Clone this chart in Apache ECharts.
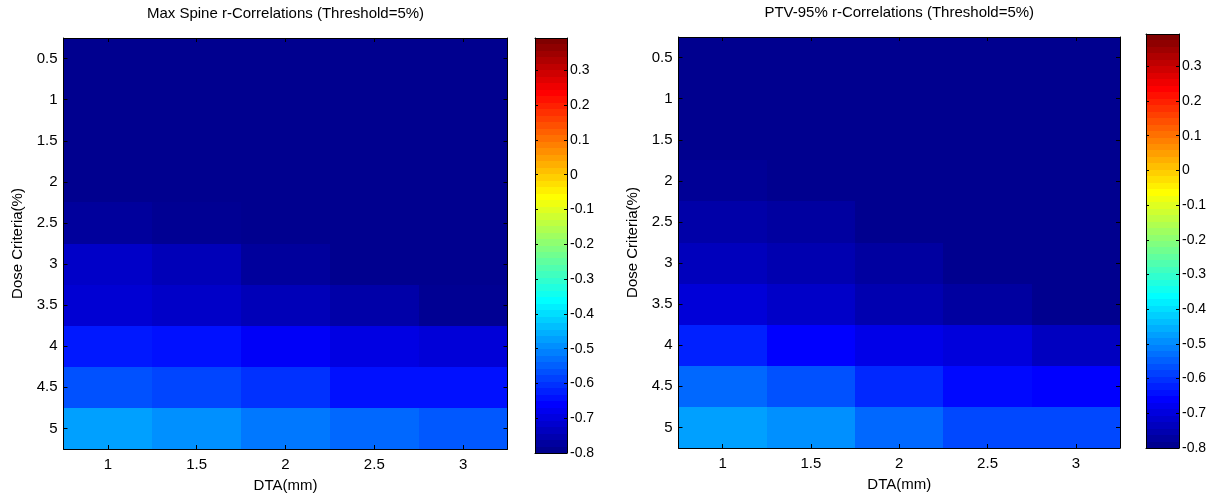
<!DOCTYPE html>
<html>
<head>
<meta charset="utf-8">
<script src="https://cdn.jsdelivr.net/npm/echarts@6/dist/echarts.min.js"></script>
<style>
  html, body { margin: 0; padding: 0; background: #fff; }
  #chart { width: 1221px; height: 498px; }
</style>
</head>
<body>
<div id="chart"></div>
<script>
// Gamma criteria grid
const DTA = ['1', '1.5', '2', '2.5', '3'];
const DOSE = ['0.5', '1', '1.5', '2', '2.5', '3', '3.5', '4', '4.5', '5'];

// r-correlations, one row per dose criterion, columns follow DTA
const spineR = [
  [-0.80, -0.80, -0.80, -0.80, -0.80],
  [-0.80, -0.80, -0.80, -0.80, -0.80],
  [-0.80, -0.80, -0.80, -0.80, -0.80],
  [-0.80, -0.80, -0.80, -0.80, -0.80],
  [-0.785, -0.795, -0.80, -0.80, -0.80],
  [-0.733, -0.752, -0.785, -0.80, -0.80],
  [-0.719, -0.733, -0.752, -0.771, -0.795],
  [-0.639, -0.648, -0.676, -0.700, -0.714],
  [-0.572, -0.586, -0.610, -0.648, -0.648],
  [-0.477, -0.496, -0.525, -0.544, -0.563]
];
const ptvR = [
  [-0.80, -0.80, -0.80, -0.80, -0.80],
  [-0.80, -0.80, -0.80, -0.80, -0.80],
  [-0.80, -0.80, -0.80, -0.80, -0.80],
  [-0.792, -0.80, -0.80, -0.80, -0.80],
  [-0.771, -0.780, -0.80, -0.80, -0.80],
  [-0.747, -0.761, -0.780, -0.80, -0.80],
  [-0.714, -0.733, -0.761, -0.780, -0.80],
  [-0.630, -0.667, -0.695, -0.709, -0.742],
  [-0.544, -0.572, -0.620, -0.658, -0.667],
  [-0.477, -0.496, -0.544, -0.582, -0.582]
];

// colour scale limits and colourbar tick labels
const C_MIN = -0.8;
const C_MAX = 0.393;
const CB_TICKS = ['-0.8', '-0.7', '-0.6', '-0.5', '-0.4', '-0.3', '-0.2', '-0.1', '0', '0.1', '0.2', '0.3'];

const TITLES = ['Max Spine r-Correlations (Threshold=5%)', 'PTV-95% r-Correlations (Threshold=5%)'];
const X_NAME = 'DTA(mm)';
const Y_NAME = 'Dose Criteria(%)';

// 64-level jet colormap
function jet(m) {
  const n = Math.ceil(m / 4);
  const u = [];
  for (let i = 1; i <= n; i++) u.push(i / n);
  for (let i = 1; i < n; i++) u.push(1);
  for (let i = n; i >= 1; i--) u.push(i / n);
  const g0 = Math.ceil(n / 2) - (m % 4 === 1 ? 1 : 0);
  const J = Array.from({ length: m }, () => [0, 0, 0]);
  const gIdx = u.map((_, i) => g0 + i + 1);
  const rIdx = gIdx.map(v => v + n).filter(v => v <= m);
  const bIdx = gIdx.map(v => v - n).filter(v => v >= 1);
  gIdx.filter(v => v <= m).forEach((v, i) => { J[v - 1][1] = u[i]; });
  rIdx.forEach((v, i) => { J[v - 1][0] = u[i]; });
  bIdx.forEach((v, i) => { J[v - 1][2] = u[u.length - bIdx.length + i]; });
  return J.map(c => 'rgb(' + c.map(x => Math.round(x * 255)).join(',') + ')');
}
const JET = jet(64);

const FONT = "'Liberation Sans', Arial, sans-serif";
const BLACK = '#000';

function cells(rows) {
  const out = [];
  rows.forEach((row, yi) => row.forEach((v, xi) => out.push([xi, yi, v])));
  return out;
}
function bands() {
  const out = [];
  const step = (C_MAX - C_MIN) / JET.length;
  for (let i = 0; i < JET.length; i++) out.push([0.5, C_MIN + i * step, C_MIN + (i + 1) * step]);
  return out;
}

// one heatmap cell, snapped to whole pixels so neighbours meet without seams
function cellItem(params, api) {
  const c = api.coord([api.value(0), api.value(1)]);
  const s = api.size([1, 1]);
  const x0 = Math.round(c[0] - s[0] / 2), x1 = Math.round(c[0] + s[0] / 2);
  const y0 = Math.round(c[1] - s[1] / 2), y1 = Math.round(c[1] + s[1] / 2);
  return { type: 'rect', shape: { x: x0, y: y0, width: x1 - x0, height: y1 - y0 },
    style: { fill: api.visual('color') } };
}
// one colourbar band
function bandItem(params, api) {
  const a = api.coord([0, api.value(2)]);
  const b = api.coord([1, api.value(1)]);
  const y0 = Math.round(a[1]), y1 = Math.round(b[1]);
  return { type: 'rect', shape: { x: a[0], y: y0, width: b[0] - a[0], height: y1 - y0 },
    style: { fill: JET[params.dataIndex] } };
}

const line = { show: true, onZero: false, lineStyle: { color: BLACK, width: 1 } };
const tickIn = { show: true, inside: true, alignWithLabel: true, length: 4, lineStyle: { color: BLACK } };
const lbl = { color: BLACK, fontFamily: FONT, fontSize: 15 };
const nameStyle = { color: BLACK, fontFamily: FONT, fontSize: 15 };

// panel geometry: heatmap and colourbar per panel
const panels = [
  { grid: { left: 63.5, top: 38, width: 444, height: 415 }, bar: { left: 535, top: 38, width: 32, height: 415 } },
  { grid: { left: 678.5, top: 34, width: 441.5, height: 414 }, bar: { left: 1146, top: 34, width: 33, height: 414 } }
];

const grids = [], xAxes = [], yAxes = [], series = [];
panels.forEach((p, k) => {
  const gh = grids.length;
  grids.push(p.grid);
  const gb = grids.length;
  grids.push(p.bar);
  const xb = xAxes.length;
  // heatmap axes
  xAxes.push({ gridIndex: gh, type: 'category', data: DTA, position: 'bottom', z: 5,
    axisLine: line, axisTick: tickIn, splitLine: { show: false },
    axisLabel: Object.assign({ margin: 8 }, lbl),
    name: X_NAME, nameLocation: 'middle', nameGap: 29, nameTextStyle: nameStyle });
  xAxes.push({ gridIndex: gh, type: 'category', data: DTA, position: 'top', z: 5,
    axisLine: line, axisTick: tickIn, axisLabel: { show: false }, splitLine: { show: false },
    name: TITLES[k], nameLocation: 'middle', nameGap: 17, nameTextStyle: nameStyle });
  const yb = yAxes.length;
  yAxes.push({ gridIndex: gh, type: 'category', data: DOSE, inverse: true, position: 'left', z: 5,
    axisLine: line, axisTick: tickIn, splitLine: { show: false },
    axisLabel: Object.assign({ margin: 6 }, lbl),
    name: Y_NAME, nameLocation: 'middle', nameGap: 38, nameRotate: 90, nameTextStyle: nameStyle });
  yAxes.push({ gridIndex: gh, type: 'category', data: DOSE, inverse: true, position: 'right', z: 5,
    axisLine: line, axisTick: tickIn, axisLabel: { show: false }, splitLine: { show: false } });
  // colourbar axes
  const xc = xAxes.length;
  ['bottom', 'top'].forEach(pos => xAxes.push({ gridIndex: gb, type: 'value', min: 0, max: 1, position: pos, z: 5,
    axisLine: line, axisTick: { show: false }, axisLabel: { show: false }, splitLine: { show: false } }));
  const yc = yAxes.length;
  yAxes.push({ gridIndex: gb, type: 'value', min: C_MIN, max: C_MAX, interval: 0.1, position: 'left', z: 5,
    axisLine: line, axisTick: { show: true, inside: true, length: 3, lineStyle: { color: BLACK } },
    axisLabel: { show: false }, splitLine: { show: false } });
  yAxes.push({ gridIndex: gb, type: 'value', min: C_MIN, max: C_MAX, interval: 0.1, position: 'right', z: 5,
    axisLine: line, axisTick: { show: true, inside: true, length: 3, lineStyle: { color: BLACK } },
    splitLine: { show: false },
    axisLabel: { margin: 3, showMaxLabel: false, color: BLACK, fontFamily: FONT, fontSize: 14,
      formatter: v => { const s = String(Math.round(v * 10) / 10); return CB_TICKS.indexOf(s) >= 0 ? s : ''; } } });

  series.push({ type: 'custom', xAxisIndex: xb, yAxisIndex: yb, data: cells(k === 0 ? spineR : ptvR),
    dimensions: ['dta', 'dose', 'r'], encode: { x: 0, y: 1 }, silent: true, z: 2, renderItem: cellItem });
  series.push({ type: 'custom', xAxisIndex: xc, yAxisIndex: yc, data: bands(), silent: true, z: 2,
    dimensions: ['x', 'lo', 'hi'], encode: { x: 0, y: [1, 2] }, renderItem: bandItem });
});

const chart = echarts.init(document.getElementById('chart'), null, { renderer: 'canvas' });
chart.setOption({
  backgroundColor: '#fff',
  animation: false,
  grid: grids,
  xAxis: xAxes,
  yAxis: yAxes,
  visualMap: { type: 'continuous', show: false, min: C_MIN, max: C_MAX, dimension: 2,
    seriesIndex: [0, 2], inRange: { color: JET } },
  series: series
});
</script>
</body>
</html>
